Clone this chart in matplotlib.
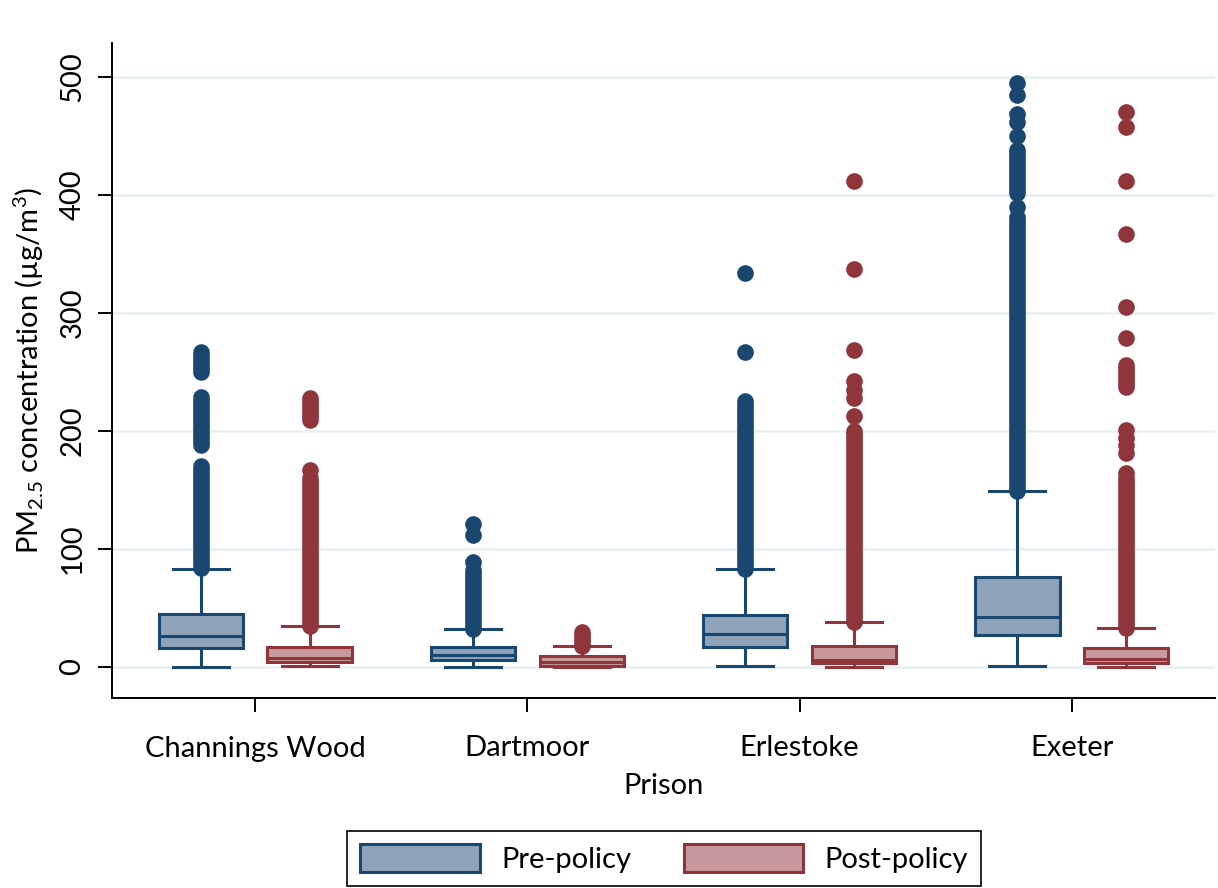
import matplotlib
matplotlib.use('Agg')
import matplotlib.pyplot as plt
from matplotlib.patches import Patch

plt.rcParams['font.family'] = ['Lato', 'DejaVu Sans']
plt.rcParams['mathtext.fontset'] = 'custom'
plt.rcParams['mathtext.rm'] = 'Lato'

prisons = ['Channings Wood', 'Dartmoor', 'Erlestoke', 'Exeter']

# box statistics (µg/m³)
pre_whislo = [0, 0, 1, 1]
pre_q1 = [16, 6, 17, 27]
pre_med = [26, 10, 28, 42]
pre_q3 = [45, 17, 44, 76]
pre_whishi = [83, 32, 83, 149]

post_whislo = [1, 0, 0, 0]
post_q1 = [4, 1, 3, 3]
post_med = [8, 4, 6, 7]
post_q3 = [17, 9, 18, 16]
post_whishi = [35, 18, 38, 33]

# outliers: dense runs (lo, hi) where dots overlap into a column, plus single dots
pre_runs = [[(84, 170), (188, 229), (250, 267)],
            [(32, 82)],
            [(83, 225)],
            [(149, 381), (402, 438)]]
pre_points = [[],
              [89, 112, 121],
              [267, 334],
              [390, 450, 462, 469, 485, 495]]

post_runs = [[(35, 160), (209, 228)],
             [(18, 30)],
             [(38, 200)],
             [(33, 160), (237, 256)]]
post_points = [[167],
               [],
               [213, 228, 235, 242, 269, 337, 412],
               [164, 181, 188, 194, 201, 279, 305, 367, 412, 458, 470]]

pre_dark, pre_fill = '#1a476f', '#8ea3b9'
post_dark, post_fill = '#90353b', '#c8999c'

fig = plt.figure(figsize=(12.18, 8.88), dpi=100)
ax = fig.add_axes([112 / 1218, 1 - 698 / 888, 1103 / 1218, 655 / 888])

for y in range(0, 501, 100):
    ax.axhline(y, color='#e8f0f2', lw=1.8, zorder=0)


def draw_group(offset, whislo, q1, med, q3, whishi, runs, points, dark, fill):
    stats = []
    for i in range(len(prisons)):
        stats.append(dict(whislo=whislo[i], q1=q1[i], med=med[i], q3=q3[i],
                          whishi=whishi[i], fliers=[]))
    pos = [i + 1 + offset for i in range(len(prisons))]
    ax.bxp(stats, positions=pos, widths=0.31, capwidths=0.205,
           showfliers=False, patch_artist=True,
           boxprops=dict(facecolor=fill, edgecolor=dark, linewidth=2.2),
           medianprops=dict(color=dark, linewidth=2.2),
           whiskerprops=dict(color=dark, linewidth=2.2),
           capprops=dict(color=dark, linewidth=2.2),
           zorder=2)
    for i, x in enumerate(pos):
        for lo, hi in runs[i]:
            ax.plot([x, x], [lo, hi], color=dark, lw=12, solid_capstyle='round',
                    zorder=3)
        if points[i]:
            ax.plot([x] * len(points[i]), points[i], 'o', color=dark,
                    markersize=12, markeredgewidth=0, zorder=3)


draw_group(-0.2, pre_whislo, pre_q1, pre_med, pre_q3, pre_whishi,
           pre_runs, pre_points, pre_dark, pre_fill)
draw_group(0.2, post_whislo, post_q1, post_med, post_q3, post_whishi,
           post_runs, post_points, post_dark, post_fill)

ax.set_xlim(0.474, 4.526)
ax.set_ylim(-26.3, 528.8)
ax.set_xticks([1, 2, 3, 4])
ax.set_xticklabels(prisons)
ax.set_yticks(range(0, 501, 100))
plt.setp(ax.get_yticklabels(), rotation=90, va='center')
ax.tick_params(axis='both', labelsize=21, length=10, width=1.4, color='black')
ax.tick_params(axis='x', pad=17)
ax.tick_params(axis='y', pad=9)

for s in ['top', 'right']:
    ax.spines[s].set_visible(False)
for s in ['left', 'bottom']:
    ax.spines[s].set_linewidth(1.4)

ax.set_xlabel('Prison', fontsize=21, labelpad=8)
ax.set_ylabel(r'PM$_\mathregular{2.5}$ concentration (µg/m$^\mathregular{3}$)',
              fontsize=21, labelpad=10)

handles = [Patch(facecolor=pre_fill, edgecolor=pre_dark, linewidth=2.2, label='Pre-policy'),
           Patch(facecolor=post_fill, edgecolor=post_dark, linewidth=2.2, label='Post-policy')]
leg = fig.legend(handles=handles, loc='upper center', ncol=2,
                 bbox_to_anchor=(664 / 1218, 1 - 831 / 888), borderaxespad=0,
                 fontsize=21, handlelength=4.1, handleheight=1.1,
                 handletextpad=0.72, columnspacing=1.8, borderpad=0.45,
                 fancybox=False, edgecolor='black', framealpha=1)
leg.get_frame().set_linewidth(1.2)

fig.savefig('out.png', dpi=100)
